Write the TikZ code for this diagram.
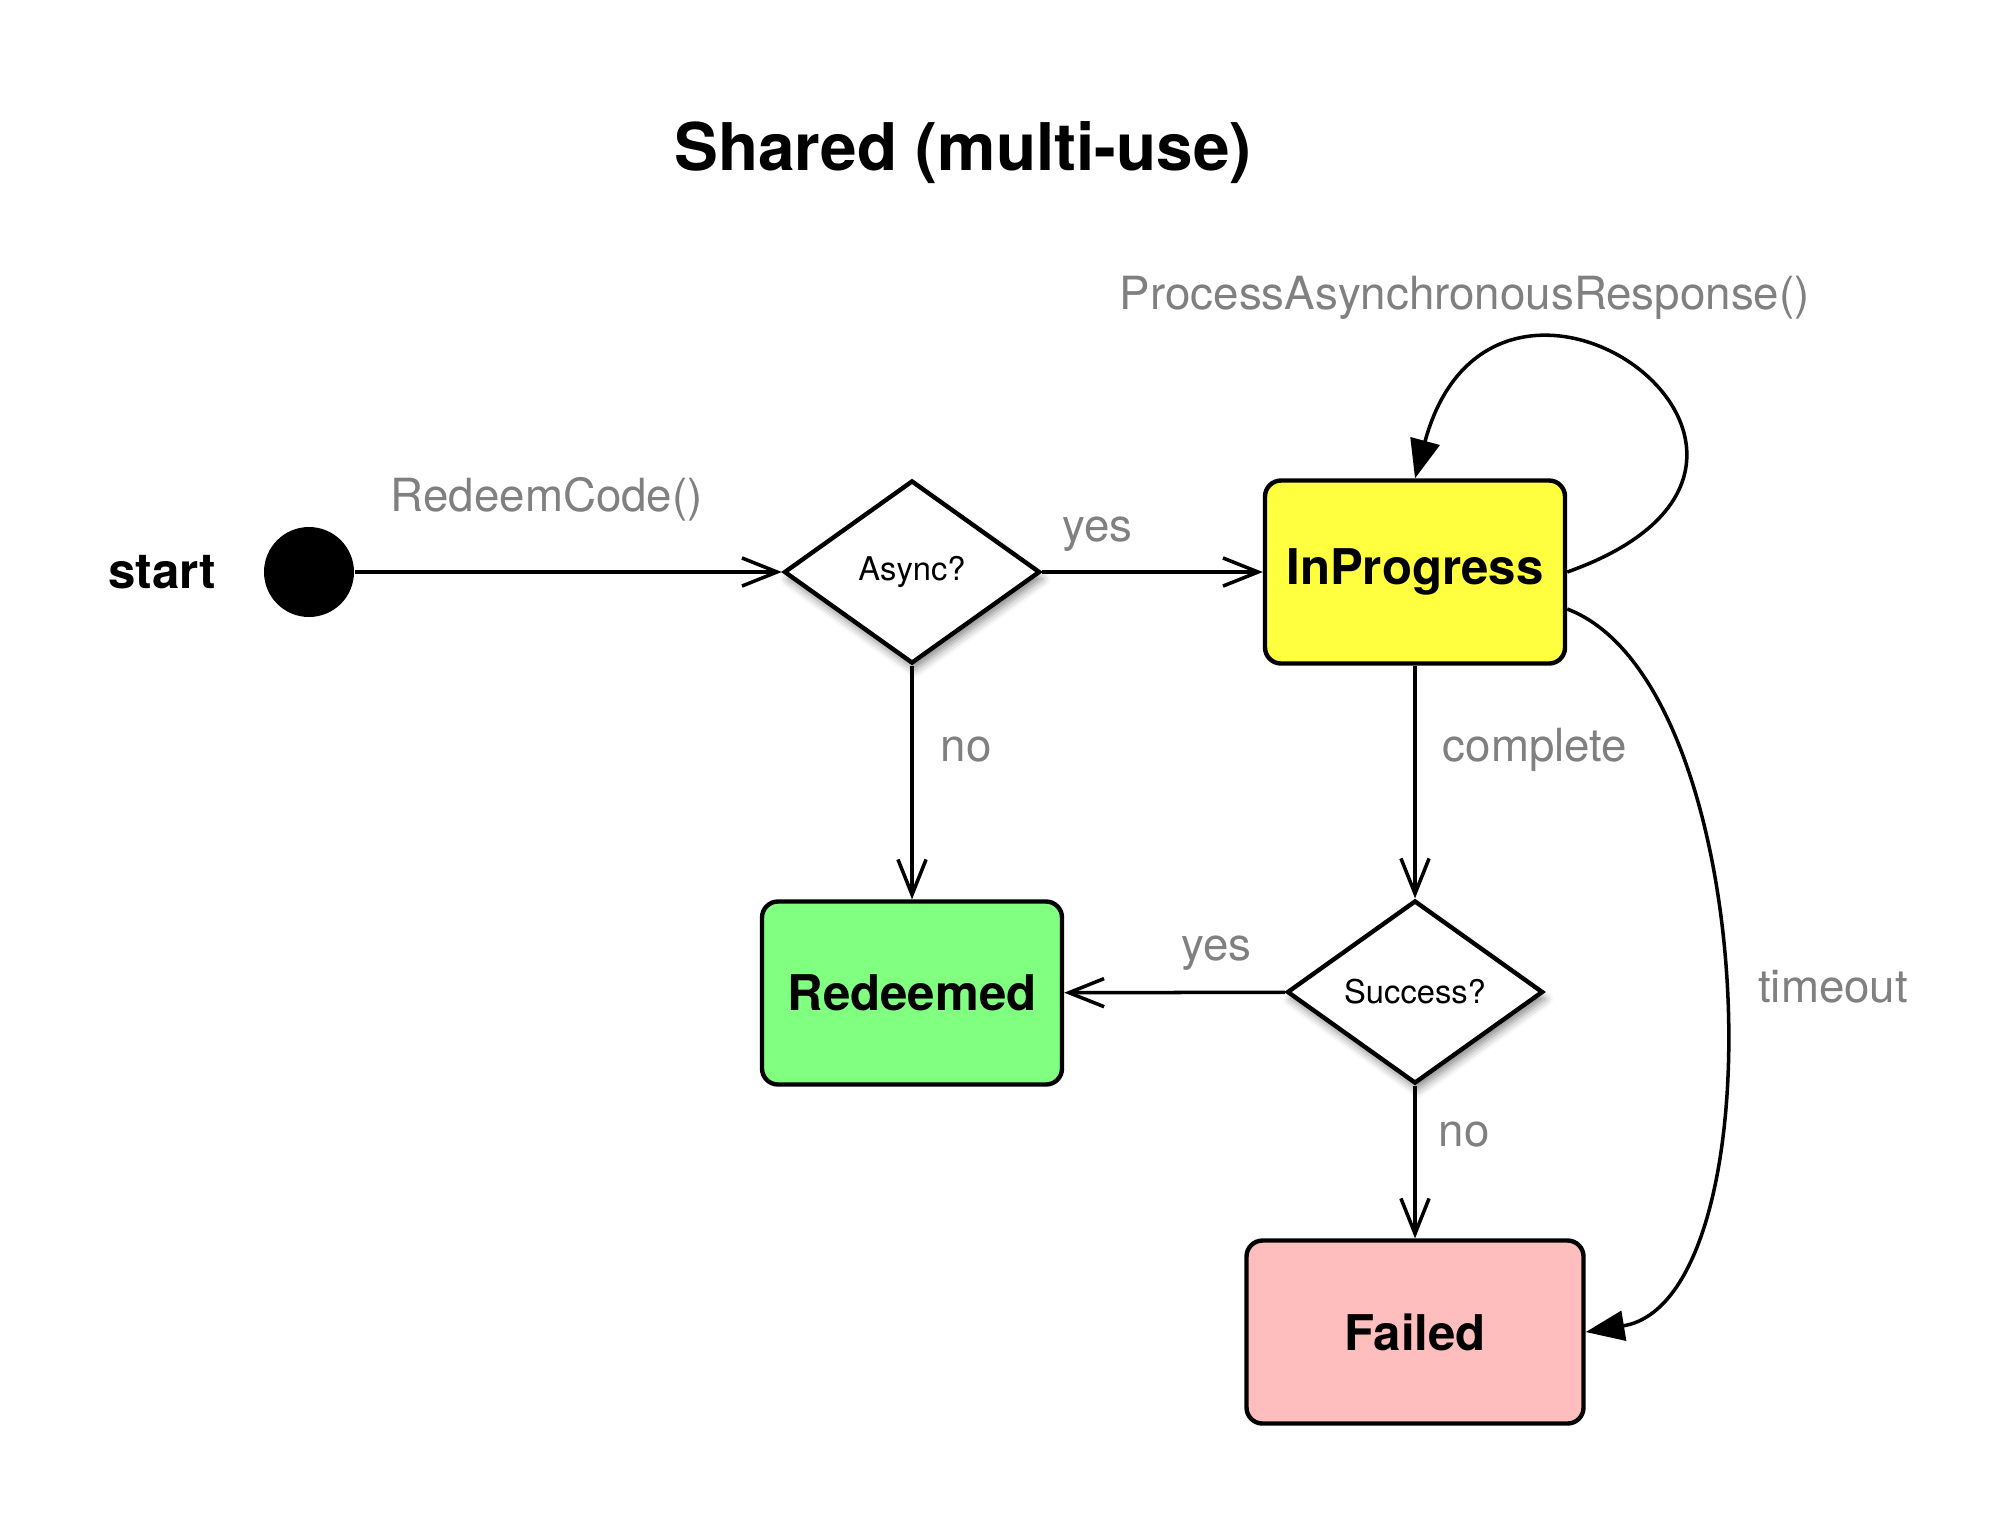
\documentclass[tikz,border=0pt]{standalone}
\usepackage{fontspec}
\setmainfont{TeX Gyre Heros}
\usetikzlibrary{positioning}
\usetikzlibrary{arrows.meta}
\usetikzlibrary{shapes.geometric}
\usetikzlibrary{shadows.blur}
\tikzstyle{state} = [draw, line width=1.25pt, rounded corners=0.16cm, minimum height=1.83cm, font=\fontsize{14}{16}\selectfont\bfseries]
\tikzstyle{choice} = [diamond, draw, fill=white, line width=1.25pt, inner sep=0pt, minimum width=2.56cm, minimum height=1.83cm, font=\fontsize{9.3}{11}\selectfont, blur shadow={shadow xshift=0.03cm, shadow yshift=-0.07cm, shadow blur radius=0.08cm, shadow opacity=45}]
\tikzstyle{flow} = [line width=1pt, -{Straight Barb[length=10pt,width=8pt,line width=1pt]}]
\tikzstyle{selfarc} = [line width=1pt, -{Triangle[length=11pt,width=8.5pt]}]
\tikzstyle{lbl} = [text=lblgray, font=\fontsize{13}{15}\selectfont]
\definecolor{busy}{RGB}{255,255,64}
\definecolor{okay}{RGB}{128,255,128}
\definecolor{fail}{RGB}{255,190,190}
\definecolor{lblgray}{RGB}{128,128,128}

\begin{document}
\begin{tikzpicture}
        \useasboundingbox (0,0) rectangle (20.16,-15.12);

        \node (title) at (9.63,-1.53) {\fontsize{18.7}{22}\selectfont\bfseries Shared (multi-use)};

        % top row
        \node[circle, fill=black, minimum size=0.9cm, inner sep=0pt] (start) at (3.09,-5.72) {};
        \node[left of=start, node distance=1.47cm, font=\fontsize{14}{16}\selectfont\bfseries] (startlbl) {start};
        \node[choice, right of=start, node distance=6.03cm] (async) {Async?};
        \node[state, fill=busy, minimum width=3.0cm, right of=async, node distance=5.03cm] (inprog) {InProgress};

        % lower rows
        \node[state, fill=okay, minimum width=3.0cm, below of=async, node distance=4.21cm] (redeemed) {Redeemed};
        \node[choice, below of=inprog, node distance=4.2cm] (success) {Success?};
        \node[state, fill=fail, minimum width=3.37cm, below of=success, node distance=3.4cm] (failed) {Failed};

        \draw[flow] (start) -- node[lbl, pos=0.45, yshift=0.73cm] {RedeemCode()} (async);
        \draw[flow] (async) -- node[lbl, pos=0.25, yshift=0.38cm] {yes} (inprog);
        \draw[flow] (async) -- node[lbl, pos=0.36, xshift=0.54cm] {no} (redeemed);
        \draw[flow] (inprog) -- node[lbl, pos=0.36, xshift=1.2cm] {complete} (success);
        \draw[flow] (success) -- node[lbl, pos=0.31, yshift=0.39cm] {yes} (redeemed);
        \draw[flow] (success) -- node[lbl, pos=0.32, xshift=0.49cm] {no} (failed);

        \draw[selfarc] (inprog.east) .. controls +(3.1,1.1) and +(0.8,2.95) .. (inprog.north)
            node[lbl, pos=0.7, xshift=-0.77cm, yshift=0.5cm] {ProcessAsynchronousResponse()};
        \draw[selfarc] ([yshift=-0.37cm]inprog.east) .. controls +(1.95,-0.74) and +(1.95,0.32) .. (failed.east)
            node[lbl, pos=0.5, right, xshift=0.22cm] {timeout};
    \end{tikzpicture}
\end{document}
